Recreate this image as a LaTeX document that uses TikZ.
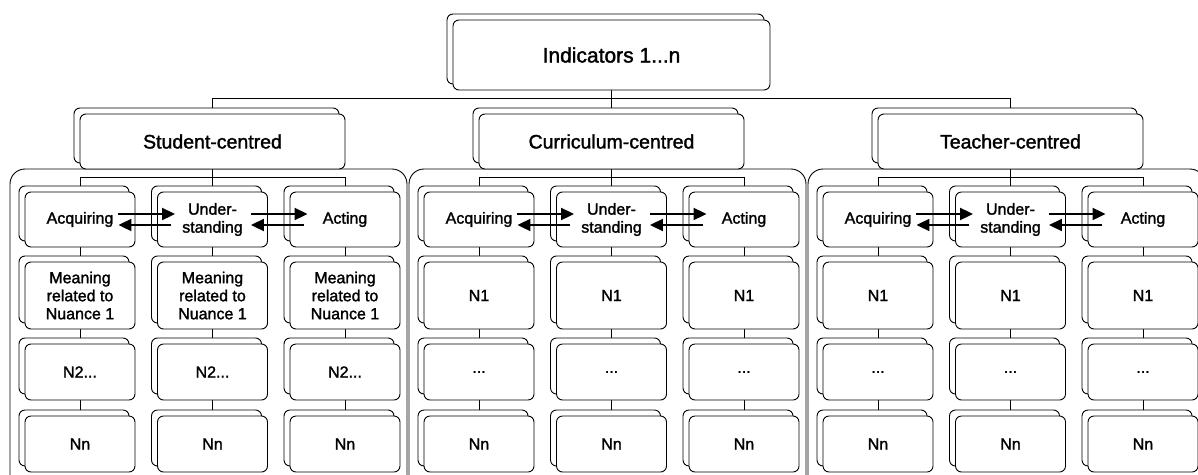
\documentclass[tikz,border=0pt]{standalone}
\usepackage{fontspec}
\setmainfont{Liberation Sans}[FakeBold=1.6]
\usetikzlibrary{shadows,arrows.meta,backgrounds}
\newcommand\meaningtxt{Meaning\\related to\\Nuance 1}
\newcommand\ntwotxt{N2...}
\newcommand\moretxt{...}
\newcommand\undertxt{Under-\\standing}
\tikzset{
  card/.style={draw,fill=white,rounded corners=6pt,line width=0.9pt,
    minimum width=110pt,minimum height=55pt,inner sep=0pt,align=center,
    font=\fontsize{16}{18}\selectfont,
    general shadow={shadow xshift=-6pt,shadow yshift=6pt,draw=black,fill=white}},
  headcard/.style={card,minimum width=265pt,font=\fontsize{19.5}{22}\selectfont},
  group/.style={draw,rounded corners=15pt,line width=0.9pt},
  link/.style={line width=0.9pt},
  flow/.style={line width=2pt,-{Triangle[length=13pt,width=12pt]}},
}
\begin{document}
\begin{tikzpicture}[x=1pt,y=-1pt]
\useasboundingbox (0,0) rectangle (1198,474);
\clip (0,0) rectangle (1198,474);
\node[headcard,minimum width=317pt,minimum height=70pt,font=\fontsize{21}{24}\selectfont] (ind) at (611.5,55) {Indicators 1...n};
\foreach \g/\grp/\title/\rowb/\rowc in {0/stu/Student-centred/\meaningtxt/\ntwotxt,
    1/cur/Curriculum-centred/N1/\moretxt,2/tea/Teacher-centred/N1/\moretxt}{
  \pgfmathsetmacro\gx{212.5+399*\g}
  \draw[group] (\gx-202.5,169) rectangle ++(397,330);
  \node[headcard] (\grp) at (\gx,141.5) {\title};
  \foreach \c/\act in {1/Acquiring,2/\undertxt,3/Acting}{
    \pgfmathsetmacro\cx{\gx+132.5*(\c-2)}
    \node[card] (\grp-\c-1) at (\cx,219.5) {\act};
    \node[card,minimum height=67pt] (\grp-\c-2) at (\cx,295.5) {\rowb};
    \node[card,minimum height=56pt] (\grp-\c-3) at (\cx,372) {\rowc};
    \node[card,minimum height=56pt] (\grp-\c-4) at (\cx,444) {Nn};
  }
  % tree lines behind the cards
  \begin{pgfonlayer}{background}
    \draw[link] (\grp.south) -- ++(0,8) coordinate (\grp-j);
    \draw[link] (\grp-1-1.north) |- (\grp-j) -| (\grp-3-1.north);
    \draw[link] (\grp-j) -- (\grp-2-1.north);
    \foreach \c in {1,2,3}{
      \foreach \r in {1,2,3}{
        \pgfmathtruncatemacro\s{\r+1}
        \draw[link] (\grp-\c-\r) -- (\grp-\c-\s);
      }
    }
  \end{pgfonlayer}
  \foreach \a/\b in {1/2,2/3}{
    \draw[flow] ([xshift=-17pt,yshift=5.5pt]\grp-\a-1.east) -- ([xshift=18pt,yshift=5.5pt]\grp-\b-1.west);
    \draw[flow] ([xshift=14pt,yshift=-5.5pt]\grp-\b-1.west) -- ([xshift=-17pt,yshift=-5.5pt]\grp-\a-1.east);
  }
}
\begin{pgfonlayer}{background}
  \draw[link] (ind.south) -- ++(0,8) coordinate (top);
  \draw[link] (stu.north) |- (top) -| (tea.north);
  \draw[link] (top) -- (cur.north);
\end{pgfonlayer}
\end{tikzpicture}
\end{document}
